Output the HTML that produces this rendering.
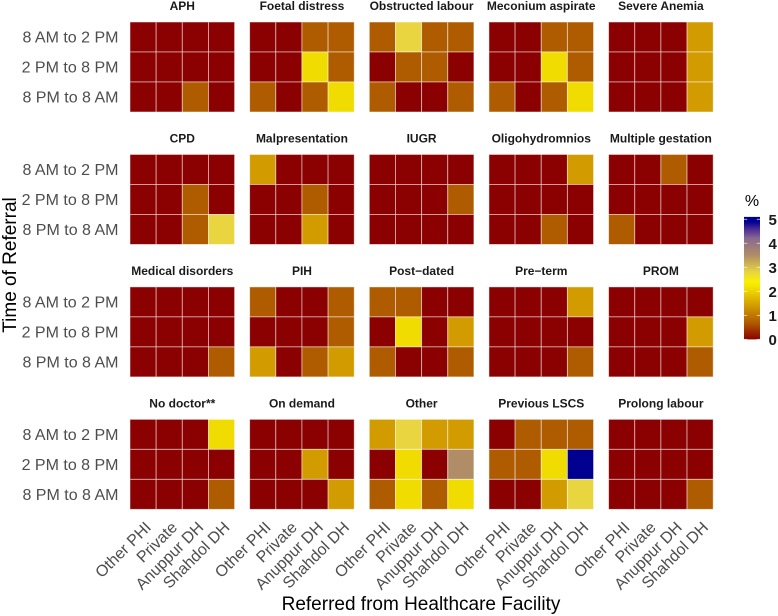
<!DOCTYPE html>
<html lang="en">
<head>
<meta charset="utf-8">
<title>Time of referral heatmap</title>
<style>
html,body{margin:0;padding:0;background:#fff;width:778px;height:616px;overflow:hidden}
svg{display:block;font-family:"Liberation Sans",Arial,sans-serif}
</style>
</head>
<body>
<svg id="chart" xmlns="http://www.w3.org/2000/svg" width="778" height="616" viewBox="0 0 778 616">
  <rect x="0" y="0" width="778" height="616" fill="#ffffff"/>
  <g id="panels"></g>
  <g id="legend"></g>
  <text x="421" y="610" font-size="19" text-anchor="middle" fill="#000">Referred from Healthcare Facility</text>
  <text transform="translate(16,265) rotate(-90)" font-size="19" text-anchor="middle" fill="#000">Time of Referral</text>
</svg>
<script>
const facilities = ["Other PHI", "Private", "Anuppur DH", "Shahdol DH"];
const timeSlots = ["8 AM to 2 PM", "2 PM to 8 PM", "8 PM to 8 AM"];
const panelTitles = [
  "APH", "Foetal distress", "Obstructed labour", "Meconium aspirate", "Severe Anemia",
  "CPD", "Malpresentation", "IUGR", "Oligohydromnios", "Multiple gestation",
  "Medical disorders", "PIH", "Post\u2212dated", "Pre\u2212term", "PROM",
  "No doctor**", "On demand", "Other", "Previous LSCS", "Prolong labour"
];
const panelValues = [
  [[0,0,0,0],[0,0,0,0],[0,0,0.7,0]],
  [[0,0,0.7,0.7],[0,0,2.1,0.7],[0.7,0,0.7,2.1]],
  [[0.7,2.8,0.7,0.7],[0,0.7,0.7,0],[0.7,0,0,0.7]],
  [[0,0,0.7,0.7],[0,0,2.1,0.7],[0.7,0,0.7,2.1]],
  [[0,0,0,1.4],[0,0,0,1.4],[0,0,0,1.4]],
  [[0,0,0,0],[0,0,0.7,0],[0,0,0.7,2.8]],
  [[1.4,0,0,0],[0,0,0.7,0],[0,0,1.4,0]],
  [[0,0,0,0],[0,0,0,0.7],[0,0,0,0]],
  [[0,0,0,1.4],[0,0,0,0],[0,0,0.7,0]],
  [[0,0,0.7,0],[0,0,0,0],[0.7,0,0,0]],
  [[0,0,0,0],[0,0,0,0],[0,0,0,0.7]],
  [[0.7,0,0,0.7],[0,0,0,0.7],[1.4,0,0.7,1.4]],
  [[0.7,0.7,0,0],[0,2.1,0,1.4],[0.7,0,0,0.7]],
  [[0,0,0,1.4],[0,0,0,0],[0,0,0,0.7]],
  [[0,0,0,0],[0,0,0,1.4],[0,0,0,0.7]],
  [[0,0,0,2.1],[0,0,0,0],[0,0,0,0.7]],
  [[0,0,0,0],[0,0,1.4,0],[0,0,0,1.4]],
  [[1.4,2.8,1.4,1.4],[0,2.1,0,3.5],[0.7,2.1,0.7,2.1]],
  [[0,0.7,0.7,0.7],[0.7,0.7,2.1,4.9],[0,0,1.4,2.8]],
  [[0,0,0,0],[0,0,0,0],[0,0,0,0.7]]
];
const legendTicks = [0, 1, 2, 3, 4, 5];
const scaleValues = [0, 0.7, 1.4, 2.1, 2.4, 2.8, 3.5, 4.2, 4.6, 4.9, 5.1];
const scaleColors = ["#8b0000","#af5c00","#d29b00","#f0dc00","#fbf000","#e8d540","#b08d66","#8a6a90","#4a2a95","#000090","#000090"];

const NS = "http://www.w3.org/2000/svg";
const panelsLayer = document.getElementById("panels");
const legendLayer = document.getElementById("legend");

function hexToRgb(h){ return [1,3,5].map(i => parseInt(h.slice(i,i+2),16)); }
function colorScale(v){
  const top = scaleValues.length - 1;
  if (v <= scaleValues[0]) return scaleColors[0];
  if (v >= scaleValues[top]) return scaleColors[top];
  let i = 0;
  while (v > scaleValues[i+1]) i++;
  const t = (v - scaleValues[i]) / (scaleValues[i+1] - scaleValues[i]);
  const a = hexToRgb(scaleColors[i]), b = hexToRgb(scaleColors[i+1]);
  return "rgb(" + a.map((c,k) => Math.round(c + (b[k]-c)*t)).join(",") + ")";
}

const panelLeft = 130, panelTop = 22, panelW = 104.6, panelH = 90, pitchX = 119.65, pitchY = 132.45, columns = 5;
function panelX(p){ return panelLeft + (p % columns) * pitchX; }
function panelY(p){ return panelTop + Math.floor(p / columns) * pitchY; }
function xPos(p, col){ return panelX(p) + col * panelW / facilities.length; }
function yPos(p, row){ return panelY(p) + row * panelH / timeSlots.length; }

function svgEl(tag, attrs, parent){
  const el = document.createElementNS(NS, tag);
  Object.keys(attrs).forEach(k => el.setAttribute(k, attrs[k]));
  parent.appendChild(el);
  return el;
}

panelTitles.forEach((title, p) => {
  const group = svgEl("g", {}, panelsLayer);
  
  

  const label = svgEl("text", {x: panelX(p) + panelW/2, y: panelY(p) - 12, "font-size": 12, "font-weight": "bold", "text-anchor": "middle", fill: "#1a1a1a"}, group);
  label.textContent = title;
  
  

  panelValues[p].forEach((rowVals, r) => {
    rowVals.forEach((val, c) => {
      const cell = svgEl("rect", {x: xPos(p,c), y: yPos(p,r), width: panelW/facilities.length, height: panelH/timeSlots.length, fill: colorScale(val), stroke: "#ffffff", "stroke-opacity": 0.55, "stroke-width": 0.9}, group);
      
      
    });
  });

  if (p % columns === 0) {
    timeSlots.forEach((slot, r) => {
      const tick = svgEl("text", {x: panelX(p) - 11.5, y: yPos(p,r) + panelH/timeSlots.length/2 + 5.6, "font-size": 16, "text-anchor": "end", fill: "#4d4d4d"}, group);
      tick.textContent = slot;
      
      
    });
  }
  if (p >= panelTitles.length - columns) {
    facilities.forEach((name, c) => {
      const cx = xPos(p,c) + panelW/facilities.length/2 + 9;
      const cy = panelY(p) + panelH + 19;
      const tick = svgEl("text", {x: cx, y: cy, "font-size": 16, "text-anchor": "end", fill: "#4d4d4d", transform: "rotate(-45 " + cx + " " + cy + ")"}, group);
      tick.textContent = name;
      
      
    });
  }
});

const barX = 744, barW = 16, barBottom = 339.4, pxPerUnit = 24.02, barMax = 5.1;
function legendY(v){ return barBottom - v * pxPerUnit; }

const legendTitle = svgEl("text", {x: 752, y: 206, "font-size": 16, "text-anchor": "middle", fill: "#000"}, legendLayer);
legendTitle.textContent = "%";



const defs = svgEl("defs", {}, legendLayer);
const grad = svgEl("linearGradient", {id: "legendGradient", x1: 0, y1: 1, x2: 0, y2: 0}, defs);
scaleValues.forEach((v, i) => {
  svgEl("stop", {offset: v / barMax, "stop-color": scaleColors[i]}, grad);
});
const bar = svgEl("rect", {x: barX, y: legendY(barMax), width: barW, height: barMax * pxPerUnit, fill: "url(#legendGradient)"}, legendLayer);



legendTicks.forEach(t => {
  const y = legendY(t);
  const left = svgEl("line", {x1: barX, x2: barX + barW/5, y1: y, y2: y, stroke: "#ffffff", "stroke-opacity": 0.7, "stroke-width": 0.9}, legendLayer);
  
  
  const right = svgEl("line", {x1: barX + barW*4/5, x2: barX + barW, y1: y, y2: y, stroke: "#ffffff", "stroke-opacity": 0.7, "stroke-width": 0.9}, legendLayer);
  
  
  const label = svgEl("text", {x: 768.5, y: y + 5.5, "font-size": 15, "font-weight": "bold", fill: "#1a1a1a"}, legendLayer);
  label.textContent = String(t);
  
  
});
</script>
</body>
</html>
